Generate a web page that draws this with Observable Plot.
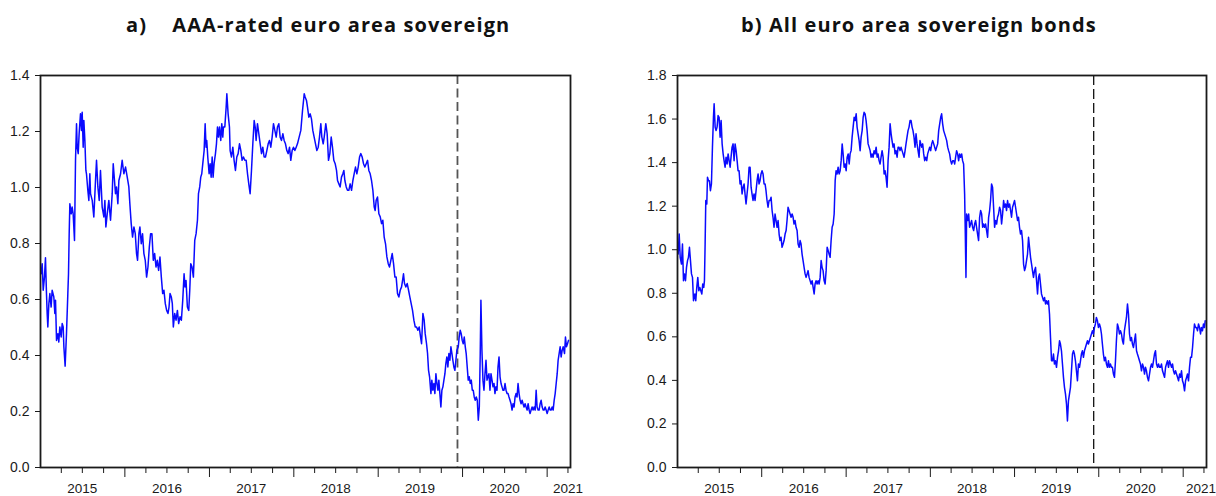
<!DOCTYPE html>
<html>
<head>
<meta charset="utf-8">
<script src="https://cdn.jsdelivr.net/npm/d3@7"></script>
<script src="https://cdn.jsdelivr.net/npm/@observablehq/plot@0.6"></script>
<style>
  html, body { margin: 0; padding: 0; background: #fff; }
  #wrap { position: relative; width: 1216px; height: 496px; overflow: hidden; }
  .title { position: absolute; top: 15px; line-height: 20px; font-family: "Open Sans", "Noto Sans", sans-serif;
           font-weight: 700; font-size: 20px; letter-spacing: 1.1px; color: #111; white-space: pre; }
  #charts { position: absolute; top: 60px; left: 0; display: flex; }
  #charts svg { display: block; }
</style>
</head>
<body>
<div id="wrap">
  <div class="title" id="titleA" style="left:126px">a)    AAA-rated euro area sovereign</div>
  <div class="title" id="titleB" style="left:741px">b) All euro area sovereign bonds</div>
  <div id="charts"></div>
</div>
<script>
// ---------- data ----------
// time is given in years since baseYear (decimal years), values in percent
const baseYear = 2015;
const domainStart = "2015-01-01";
const domainEnd = "2021-04-12";
const markerDate = "2019-12-10";
const yearLabels = ["2015", "2016", "2017", "2018", "2019", "2020", "2021"];
const yTicksA = [0.0, 0.2, 0.4, 0.6, 0.8, 1.0, 1.2, 1.4];
const yTicksB = [0.0, 0.2, 0.4, 0.6, 0.8, 1.0, 1.2, 1.4, 1.6, 1.8];

// a) AAA-rated euro area sovereign
const aaaSeries = [
[0.008,0.692],[0.020,0.728],[0.032,0.633],[0.047,0.680],[0.059,0.749],[0.071,0.621],[0.079,0.550],[0.087,0.502],[0.099,0.585],[0.111,0.621],[0.126,0.573],[0.138,0.633],[0.158,0.609],[0.170,0.550],[0.178,0.597],[0.190,0.454],[0.206,0.478],[0.217,0.448],[0.229,0.502],[0.245,0.466],[0.257,0.514],[0.269,0.502],[0.277,0.431],[0.292,0.362],[0.308,0.478],[0.324,0.621],[0.332,0.692],[0.340,0.835],[0.348,0.942],[0.364,0.906],[0.375,0.930],[0.387,0.906],[0.403,0.811],[0.415,1.097],[0.427,1.228],[0.435,1.144],[0.447,1.121],[0.458,1.192],[0.474,1.263],[0.486,1.204],[0.494,1.269],[0.506,1.144],[0.514,1.239],[0.526,1.168],[0.538,1.061],[0.545,1.049],[0.561,0.990],[0.573,0.954],[0.585,1.049],[0.593,0.978],[0.613,0.954],[0.632,0.895],[0.652,1.025],[0.664,1.097],[0.680,1.002],[0.696,0.954],[0.711,1.061],[0.731,0.930],[0.751,0.895],[0.763,0.954],[0.775,0.859],[0.791,0.906],[0.810,0.954],[0.830,0.883],[0.850,0.978],[0.862,1.085],[0.877,1.025],[0.889,0.978],[0.901,1.002],[0.917,0.942],[0.929,1.025],[0.949,1.049],[0.968,1.097],[0.988,1.049],[1.008,1.073],[1.028,1.037],[1.047,1.002],[1.059,0.942],[1.075,0.871],[1.091,0.823],[1.107,0.859],[1.123,0.835],[1.138,0.764],[1.150,0.740],[1.166,0.835],[1.178,0.859],[1.194,0.799],[1.209,0.835],[1.225,0.764],[1.241,0.740],[1.257,0.680],[1.273,0.716],[1.289,0.787],[1.304,0.835],[1.320,0.835],[1.336,0.740],[1.352,0.764],[1.368,0.716],[1.383,0.740],[1.399,0.704],[1.415,0.752],[1.431,0.680],[1.447,0.621],[1.462,0.633],[1.478,0.585],[1.494,0.561],[1.510,0.550],[1.522,0.573],[1.534,0.621],[1.549,0.609],[1.561,0.585],[1.573,0.502],[1.589,0.550],[1.605,0.526],[1.621,0.561],[1.636,0.514],[1.652,0.538],[1.668,0.526],[1.684,0.597],[1.700,0.692],[1.711,0.645],[1.723,0.668],[1.739,0.573],[1.755,0.561],[1.767,0.633],[1.779,0.728],[1.794,0.716],[1.810,0.680],[1.826,0.811],[1.842,0.835],[1.858,0.883],[1.870,0.978],[1.885,1.002],[1.897,1.037],[1.909,1.049],[1.925,1.097],[1.937,1.132],[1.949,1.228],[1.960,1.144],[1.968,1.168],[1.980,1.109],[1.996,1.049],[2.008,1.085],[2.020,1.037],[2.032,1.109],[2.043,1.037],[2.055,1.085],[2.071,1.121],[2.083,1.156],[2.095,1.216],[2.107,1.180],[2.119,1.216],[2.134,1.168],[2.146,1.228],[2.158,1.180],[2.166,1.216],[2.182,1.216],[2.198,1.287],[2.206,1.335],[2.221,1.263],[2.237,1.216],[2.245,1.132],[2.261,1.109],[2.277,1.144],[2.292,1.097],[2.308,1.061],[2.324,1.109],[2.340,1.121],[2.356,1.156],[2.372,1.132],[2.387,1.097],[2.403,1.109],[2.419,1.097],[2.435,1.097],[2.451,1.049],[2.466,1.013],[2.482,0.978],[2.498,1.061],[2.514,1.156],[2.530,1.239],[2.542,1.216],[2.553,1.168],[2.569,1.228],[2.585,1.192],[2.601,1.156],[2.617,1.121],[2.632,1.144],[2.648,1.109],[2.664,1.109],[2.680,1.132],[2.696,1.156],[2.711,1.168],[2.727,1.144],[2.743,1.180],[2.759,1.228],[2.775,1.204],[2.791,1.180],[2.806,1.216],[2.822,1.228],[2.838,1.180],[2.854,1.168],[2.870,1.192],[2.885,1.168],[2.901,1.156],[2.917,1.132],[2.933,1.121],[2.949,1.144],[2.964,1.097],[2.980,1.132],[2.996,1.144],[3.012,1.132],[3.028,1.144],[3.043,1.156],[3.063,1.180],[3.083,1.204],
[3.103,1.275],[3.123,1.335],[3.134,1.323],[3.150,1.311],[3.162,1.287],[3.178,1.251],[3.194,1.263],[3.209,1.245],[3.225,1.204],[3.241,1.180],[3.257,1.156],[3.273,1.132],[3.289,1.144],[3.304,1.180],[3.320,1.228],[3.332,1.180],[3.348,1.156],[3.360,1.180],[3.379,1.228],[3.395,1.192],[3.411,1.097],[3.427,1.121],[3.443,1.180],[3.458,1.144],[3.474,1.097],[3.490,1.085],[3.506,1.061],[3.518,1.025],[3.534,1.013],[3.549,1.002],[3.565,1.037],[3.581,1.049],[3.593,1.061],[3.605,1.025],[3.621,1.002],[3.636,0.990],[3.652,0.990],[3.668,1.013],[3.684,0.990],[3.700,1.025],[3.715,1.049],[3.731,1.073],[3.747,1.049],[3.763,1.073],[3.779,1.109],[3.794,1.121],[3.810,1.109],[3.826,1.085],[3.842,1.073],[3.858,1.085],[3.874,1.097],[3.889,1.061],[3.905,1.049],[3.921,1.025],[3.937,0.990],[3.953,0.930],[3.964,0.918],[3.976,0.954],[3.992,0.966],[4.008,0.906],[4.024,0.895],[4.040,0.871],[4.055,0.883],[4.071,0.823],[4.087,0.799],[4.103,0.752],[4.119,0.728],[4.134,0.716],[4.150,0.740],[4.166,0.764],[4.182,0.728],[4.198,0.680],[4.213,0.680],[4.229,0.621],[4.245,0.609],[4.261,0.633],[4.277,0.645],[4.289,0.668],[4.300,0.692],[4.312,0.657],[4.328,0.645],[4.344,0.657],[4.360,0.633],[4.375,0.609],[4.391,0.585],[4.407,0.561],[4.423,0.526],[4.439,0.502],[4.455,0.502],[4.470,0.490],[4.486,0.502],[4.502,0.466],[4.514,0.442],[4.530,0.550],[4.545,0.526],[4.557,0.478],[4.573,0.442],[4.585,0.407],[4.597,0.347],[4.609,0.324],[4.625,0.264],[4.636,0.312],[4.648,0.276],[4.660,0.300],[4.672,0.264],[4.684,0.335],[4.696,0.300],[4.708,0.276],[4.719,0.312],[4.731,0.264],[4.743,0.216],[4.755,0.276],[4.767,0.288],[4.779,0.312],[4.791,0.335],[4.802,0.371],[4.814,0.395],[4.826,0.359],[4.838,0.407],[4.850,0.383],[4.862,0.431],[4.874,0.407],[4.885,0.383],[4.897,0.359],[4.909,0.347],[4.921,0.383],[4.933,0.419],[4.949,0.431],[4.960,0.466],[4.972,0.490],[4.984,0.478],[4.996,0.454],[5.008,0.442],[5.020,0.466],[5.032,0.431],[5.043,0.407],[5.055,0.359],[5.067,0.312],[5.079,0.324],[5.091,0.300],[5.103,0.312],[5.115,0.276],[5.126,0.276],[5.138,0.252],[5.150,0.240],[5.162,0.252],[5.174,0.240],[5.186,0.169],[5.198,0.216],[5.209,0.407],[5.217,0.597],[5.229,0.419],[5.241,0.312],[5.253,0.276],[5.265,0.335],[5.277,0.383],[5.289,0.312],[5.300,0.324],[5.312,0.335],[5.324,0.276],[5.336,0.335],[5.348,0.312],[5.360,0.288],[5.372,0.300],[5.383,0.264],[5.395,0.288],[5.407,0.276],[5.419,0.359],[5.431,0.395],[5.443,0.324],[5.455,0.300],[5.466,0.288],[5.478,0.276],[5.490,0.276],[5.502,0.300],[5.514,0.276],[5.526,0.264],[5.538,0.264],[5.549,0.252],[5.561,0.240],[5.573,0.228],[5.585,0.205],[5.597,0.228],[5.609,0.216],[5.621,0.252],[5.632,0.264],[5.644,0.252],[5.656,0.300],[5.668,0.264],[5.680,0.240],[5.692,0.228],[5.704,0.240],[5.715,0.228],[5.727,0.216],[5.739,0.228],[5.751,0.216],[5.763,0.205],[5.775,0.228],[5.787,0.205],[5.798,0.193],[5.810,0.205],[5.822,0.216],[5.834,0.205],[5.846,0.216],[5.858,0.205],[5.870,0.276],[5.881,0.216],[5.893,0.205],[5.905,0.205],[5.917,0.228],[5.929,0.240],[5.941,0.216],[5.953,0.205],[5.964,0.205],[5.976,0.216],[5.988,0.205],[6.000,0.193],[6.012,0.205],[6.024,0.216],[6.036,0.205],[6.047,0.205],[6.059,0.216],[6.071,0.205],[6.083,0.240],[6.095,0.264],[6.107,0.300],[6.119,0.335],[6.130,0.383],[6.142,0.407],[6.154,0.431],[6.166,0.395],[6.178,0.419],[6.190,0.431],[6.206,0.407],[6.217,0.466],[6.229,0.431],[6.241,0.442],[6.253,0.454]
];

// b) All euro area sovereign bonds
const allSeries = [
[0.008,0.980],[0.020,1.072],[0.032,0.965],[0.047,0.934],[0.059,1.026],[0.071,0.858],[0.083,0.889],[0.095,0.858],[0.107,0.919],[0.119,0.950],[0.130,0.965],[0.142,1.011],[0.154,0.950],[0.166,0.889],[0.178,0.873],[0.190,0.766],[0.206,0.797],[0.217,0.766],[0.229,0.827],[0.241,0.873],[0.253,0.812],[0.265,0.827],[0.277,0.812],[0.289,0.797],[0.300,0.843],[0.312,0.827],[0.320,0.858],[0.328,1.026],[0.336,1.226],[0.348,1.210],[0.356,1.333],[0.368,1.317],[0.379,1.317],[0.391,1.271],[0.403,1.302],[0.415,1.471],[0.427,1.608],[0.435,1.670],[0.447,1.563],[0.458,1.547],[0.470,1.563],[0.482,1.616],[0.494,1.608],[0.506,1.517],[0.518,1.593],[0.530,1.486],[0.542,1.440],[0.553,1.409],[0.565,1.379],[0.577,1.425],[0.589,1.394],[0.601,1.440],[0.613,1.409],[0.625,1.379],[0.636,1.425],[0.648,1.471],[0.660,1.486],[0.672,1.409],[0.684,1.486],[0.696,1.455],[0.708,1.409],[0.719,1.363],[0.731,1.363],[0.743,1.302],[0.755,1.317],[0.767,1.256],[0.779,1.287],[0.791,1.302],[0.802,1.256],[0.814,1.210],[0.826,1.256],[0.838,1.302],[0.850,1.379],[0.862,1.379],[0.874,1.287],[0.885,1.256],[0.897,1.226],[0.909,1.256],[0.921,1.226],[0.933,1.271],[0.945,1.317],[0.957,1.348],[0.968,1.302],[0.980,1.317],[0.992,1.348],[1.004,1.363],[1.016,1.348],[1.028,1.302],[1.040,1.302],[1.051,1.271],[1.063,1.226],[1.075,1.195],[1.087,1.226],[1.099,1.226],[1.111,1.241],[1.123,1.180],[1.134,1.149],[1.146,1.103],[1.158,1.164],[1.170,1.134],[1.182,1.103],[1.194,1.134],[1.206,1.072],[1.217,1.042],[1.229,1.057],[1.241,1.011],[1.253,1.026],[1.265,1.042],[1.277,1.072],[1.289,1.088],[1.300,1.134],[1.312,1.195],[1.324,1.180],[1.336,1.164],[1.348,1.149],[1.360,1.164],[1.372,1.149],[1.383,1.118],[1.395,1.134],[1.407,1.103],[1.419,1.088],[1.431,1.026],[1.443,1.011],[1.455,1.042],[1.466,1.026],[1.478,0.980],[1.490,0.950],[1.502,0.919],[1.514,0.889],[1.526,0.873],[1.538,0.889],[1.549,0.904],[1.561,0.873],[1.573,0.858],[1.585,0.843],[1.597,0.858],[1.609,0.827],[1.621,0.797],[1.632,0.843],[1.644,0.858],[1.656,0.843],[1.668,0.858],[1.680,0.843],[1.692,0.873],[1.704,0.950],[1.715,0.919],[1.727,0.904],[1.739,0.858],[1.751,0.843],[1.763,0.904],[1.775,1.011],[1.787,0.996],[1.798,0.980],[1.810,0.965],[1.822,1.042],[1.834,1.103],[1.846,1.118],[1.858,1.164],[1.870,1.317],[1.881,1.363],[1.893,1.348],[1.905,1.379],[1.917,1.348],[1.929,1.363],[1.941,1.409],[1.953,1.486],[1.964,1.440],[1.976,1.379],[1.988,1.394],[2.000,1.363],[2.012,1.425],[2.024,1.440],[2.036,1.394],[2.047,1.440],[2.059,1.455],[2.071,1.517],[2.083,1.563],[2.095,1.608],[2.107,1.593],[2.119,1.624],[2.130,1.563],[2.142,1.532],[2.154,1.501],[2.166,1.455],[2.178,1.517],[2.190,1.547],[2.202,1.608],[2.213,1.631],[2.225,1.624],[2.237,1.593],[2.249,1.547],[2.261,1.486],[2.273,1.471],[2.285,1.455],[2.296,1.425],[2.308,1.440],[2.320,1.425],[2.332,1.455],[2.344,1.440],[2.356,1.471],[2.368,1.425],[2.379,1.440],[2.391,1.409],[2.403,1.394],[2.415,1.425],[2.427,1.455],[2.439,1.425],[2.451,1.348],[2.462,1.363],[2.474,1.333],[2.486,1.287],[2.498,1.409],[2.510,1.471],[2.522,1.578],[2.534,1.532],[2.545,1.501],[2.557,1.471],[2.569,1.486],[2.581,1.440],[2.593,1.455],[2.605,1.425],[2.617,1.471],[2.628,1.471],[2.640,1.455],[2.652,1.471],[2.664,1.455],[2.676,1.440],[2.688,1.425],[2.700,1.455],[2.711,1.486],[2.723,1.517],[2.735,1.547],[2.747,1.563],[2.759,1.593],[2.771,1.593],[2.783,1.563],[2.794,1.547],[2.806,1.517],[2.818,1.471],[2.830,1.532],[2.842,1.486],[2.854,1.455],[2.866,1.425],[2.877,1.501],
[2.897,1.471],[2.909,1.486],[2.921,1.440],[2.933,1.409],[2.945,1.425],[2.957,1.409],[2.968,1.440],[2.980,1.455],[2.992,1.471],[3.004,1.455],[3.016,1.486],[3.028,1.501],[3.040,1.486],[3.051,1.471],[3.063,1.455],[3.075,1.471],[3.087,1.486],[3.099,1.547],[3.111,1.578],[3.123,1.608],[3.134,1.624],[3.146,1.578],[3.158,1.547],[3.170,1.532],[3.182,1.517],[3.194,1.501],[3.206,1.471],[3.217,1.455],[3.229,1.440],[3.241,1.409],[3.253,1.394],[3.265,1.409],[3.277,1.409],[3.289,1.394],[3.300,1.425],[3.312,1.455],[3.324,1.440],[3.336,1.409],[3.348,1.440],[3.360,1.425],[3.372,1.440],[3.383,1.409],[3.395,1.394],[3.407,1.256],[3.415,1.072],[3.423,0.873],[3.431,1.164],[3.443,1.134],[3.455,1.164],[3.466,1.103],[3.478,1.118],[3.490,1.134],[3.502,1.103],[3.514,1.088],[3.526,1.118],[3.538,1.134],[3.549,1.103],[3.561,1.072],[3.573,1.042],[3.585,1.149],[3.597,1.180],[3.609,1.164],[3.621,1.103],[3.632,1.118],[3.644,1.103],[3.656,1.118],[3.668,1.088],[3.680,1.057],[3.692,1.149],[3.704,1.180],[3.715,1.226],[3.727,1.302],[3.739,1.287],[3.751,1.195],[3.763,1.103],[3.775,1.134],[3.787,1.118],[3.798,1.149],[3.810,1.164],[3.822,1.195],[3.834,1.180],[3.846,1.118],[3.858,1.164],[3.870,1.226],[3.881,1.195],[3.893,1.210],[3.905,1.180],[3.917,1.226],[3.929,1.195],[3.941,1.210],[3.953,1.180],[3.964,1.149],[3.976,1.195],[3.988,1.210],[4.000,1.226],[4.012,1.195],[4.024,1.164],[4.036,1.134],[4.047,1.149],[4.059,1.103],[4.071,1.072],[4.083,1.088],[4.095,1.042],[4.107,0.934],[4.119,0.904],[4.130,0.919],[4.142,0.950],[4.154,0.980],[4.166,1.057],[4.178,1.011],[4.190,0.965],[4.202,0.934],[4.213,0.904],[4.225,0.873],[4.237,0.904],[4.249,0.919],[4.261,0.858],[4.273,0.797],[4.285,0.873],[4.296,0.889],[4.308,0.843],[4.320,0.797],[4.332,0.781],[4.344,0.766],[4.356,0.781],[4.368,0.751],[4.379,0.766],[4.391,0.751],[4.403,0.766],[4.415,0.705],[4.427,0.597],[4.439,0.490],[4.451,0.490],[4.462,0.521],[4.474,0.475],[4.486,0.490],[4.498,0.460],[4.510,0.506],[4.522,0.536],[4.534,0.582],[4.545,0.567],[4.557,0.536],[4.569,0.475],[4.581,0.414],[4.593,0.368],[4.605,0.337],[4.617,0.291],[4.628,0.214],[4.640,0.306],[4.652,0.337],[4.664,0.368],[4.676,0.444],[4.688,0.521],[4.700,0.536],[4.711,0.521],[4.723,0.490],[4.735,0.444],[4.747,0.398],[4.759,0.475],[4.771,0.460],[4.783,0.490],[4.794,0.521],[4.806,0.536],[4.818,0.506],[4.830,0.536],[4.842,0.551],[4.854,0.567],[4.866,0.582],[4.877,0.567],[4.889,0.582],[4.901,0.597],[4.913,0.613],[4.925,0.628],[4.937,0.613],[4.949,0.643],[4.960,0.659],[4.972,0.689],[4.984,0.674],[4.996,0.643],[5.008,0.659],[5.020,0.643],[5.032,0.613],[5.043,0.567],[5.055,0.521],[5.067,0.490],[5.079,0.506],[5.091,0.475],[5.103,0.460],[5.115,0.490],[5.126,0.460],[5.138,0.475],[5.150,0.460],[5.162,0.460],[5.174,0.429],[5.186,0.414],[5.198,0.490],[5.209,0.582],[5.221,0.659],[5.233,0.643],[5.245,0.613],[5.257,0.628],[5.269,0.613],[5.281,0.582],[5.292,0.567],[5.304,0.628],[5.316,0.659],[5.328,0.689],[5.340,0.751],[5.352,0.705],[5.364,0.613],[5.375,0.582],[5.387,0.597],[5.399,0.567],[5.411,0.551],[5.423,0.582],[5.435,0.613],[5.447,0.536],[5.458,0.521],[5.470,0.506],[5.482,0.490],[5.494,0.475],[5.506,0.444],[5.518,0.475],[5.530,0.460],[5.542,0.429],[5.553,0.460],[5.565,0.444],[5.577,0.414],[5.589,0.398],[5.601,0.429],[5.613,0.460],[5.625,0.475],[5.636,0.460],[5.648,0.490],[5.660,0.521],[5.672,0.536],[5.684,0.475],[5.696,0.460],[5.708,0.475],[5.719,0.460],[5.731,0.460],[5.743,0.475],[5.755,0.444],[5.767,0.429],[5.779,0.414],[5.791,0.460],[5.802,0.475],[5.814,0.490],[5.826,0.460],[5.838,0.490],[5.850,0.475],[5.862,0.460],[5.874,0.475],[5.885,0.444],[5.897,0.429],[5.909,0.444],[5.921,0.429],[5.933,0.414],[5.945,0.398],[5.957,0.429],[5.968,0.414],[5.980,0.444],[5.992,0.398],[6.004,0.383],[6.016,0.352],[6.028,0.398],[6.040,0.414],[6.051,0.429],[6.063,0.398],[6.075,0.460],[6.087,0.506],[6.099,0.506],[6.111,0.551],[6.123,0.613],[6.134,0.659],[6.146,0.643],[6.158,0.643],[6.170,0.628],[6.182,0.659],[6.194,0.643],[6.206,0.613],[6.217,0.643],[6.229,0.628],[6.241,0.659],[6.253,0.643],[6.261,0.674]
];

// ---------- helpers ----------
function toDate(t) {
  const y = Math.floor(t);
  const a = Date.UTC(y, 0, 1), b = Date.UTC(y + 1, 0, 1);
  return new Date(a + (t - y) * (b - a));
}
const x0 = new Date(domainStart), x1 = new Date(domainEnd);
const quarterTicks = d3.utcMonth.every(3).range(x0, x1).filter(d => d.getUTCMonth() !== 0);
const yearTicks = d3.utcYear.range(new Date(Date.UTC(+yearLabels[0] + 1, 0, 1)), x1);
const lastQuarter = d3.utcMonth.every(3).floor(x1);
const labelDates = yearLabels.map(y => {
  const mid = new Date(Date.UTC(+y, 6, 1));
  return mid > x1 ? lastQuarter : mid;
});
const innerLabels = labelDates.slice(0, -1);
const lastLabel = labelDates.slice(-1);
const fmtYear = d3.utcFormat("%Y");

function chart(series, yTicks, opts) {
  const data = series.map(([t, v]) => ({date: toDate(baseYear + t), value: v}));
  return Plot.plot({
    width: opts.width,
    height: 436,
    marginLeft: opts.marginLeft,
    marginRight: opts.marginRight,
    marginTop: 15,
    marginBottom: 29,
    x: {type: "utc", domain: [x0, x1], label: null},
    y: {domain: [0, yTicks[yTicks.length - 1]], label: null},
    style: {fontFamily: "'Liberation Sans', Arial, sans-serif", fontSize: "14px", color: "#1a1a1a", background: "#fff", overflow: "visible"},
    marks: [
      Plot.ruleX([new Date(markerDate)], {stroke: opts.dashColor, strokeWidth: opts.dashWidth, strokeDasharray: opts.dash}),
      Plot.lineY(data, {x: "date", y: "value", stroke: "#0a0aff", strokeWidth: 1.5}),
      Plot.frame({stroke: "#1a1a1a", strokeWidth: 1.8}),
      Plot.axisY(yTicks, {tickSize: 5, tickPadding: 6, tickFormat: d3.format(".1f"), fontSize: 14}),
      Plot.axisX(quarterTicks, {tickSize: 6, tickFormat: () => ""}),
      Plot.axisX(yearTicks, {tickSize: 10, tickFormat: () => ""}),
      Plot.axisX(innerLabels, {tickSize: 0, tickPadding: 16, tickFormat: fmtYear, fontSize: 13.5}),
      Plot.text(lastLabel, {x: d => d, text: d => fmtYear(d), frameAnchor: "bottom", lineAnchor: "top",
        dy: 16, dx: opts.lastLabelShift, fontSize: 13.5, fill: "currentColor"})
    ]
  });
}

const host = document.getElementById("charts");
host.appendChild(chart(aaaSeries, yTicksA, {width: 608, marginLeft: 40, marginRight: 38, dashColor: "#555", dashWidth: 1.8, dash: "9,4.5", lastLabelShift: 0}));
host.appendChild(chart(allSeries, yTicksB, {width: 608, marginLeft: 69, marginRight: 10, dashColor: "#111", dashWidth: 1.3, dash: "10,4", lastLabelShift: -3}));
</script>
</body>
</html>
